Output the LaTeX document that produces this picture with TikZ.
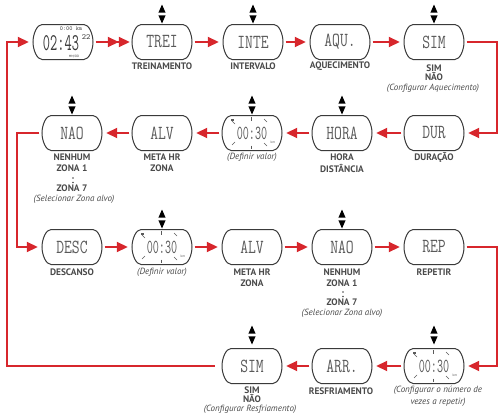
\documentclass[tikz,border=0pt]{standalone}
\usepackage{fontspec}
\setmainfont{PT Sans}
\usetikzlibrary{arrows.meta}
\definecolor{ared}{HTML}{D7262C}
\definecolor{lgray}{HTML}{4A4A4A}
\definecolor{fgray}{HTML}{3A3A3A}
\definecolor{dgray}{HTML}{5A5A5A}
\tikzset{
  face/.style={minimum width=60pt,minimum height=35pt,inner sep=0pt,
    font=\ttfamily\fontsize{19}{19}\selectfont,text=dgray},
  faceline/.style={draw=fgray,line width=1pt},
  lab/.style={font=\bfseries\fontsize{9.4}{10}\selectfont,text=lgray,inner sep=0pt},
  note/.style={font=\itshape\fontsize{9}{10}\selectfont,text=lgray,inner sep=0pt},
  flow/.style={draw=ared,line width=1.8pt,line join=miter,
    shorten <=2.5pt,shorten >=4pt,-{Triangle[length=11pt,width=10pt]}},
  flowtwo/.style={draw=ared,line width=1.8pt,shorten <=2.5pt,shorten >=2pt,
    -{Triangle[length=11pt,width=10pt]Triangle[length=11pt,width=10pt]}},
  ray/.style={draw=dgray,line width=0.7pt},
}
\newcommand{\lcdtext}[1]{\scalebox{0.8}[1.05]{#1}}
\newcommand{\lcdtime}[1]{\scalebox{0.62}[1.05]{#1}}
\newcommand{\faceoutline}[1]{%
  \begin{scope}[shift={(#1.center)}]
    \draw[faceline] (-21,-17.5) -- (21,-17.5)
      .. controls (26,-17.5) and (30,-8) .. (30,0)
      .. controls (30,8) and (26,17.5) .. (21,17.5)
      -- (-21,17.5)
      .. controls (-26,17.5) and (-30,8) .. (-30,0)
      .. controls (-30,-8) and (-26,-17.5) .. (-21,-17.5) -- cycle;
  \end{scope}}
\newcommand{\updown}[2]{%
  \fill[black] ({#1-3.6},{#2-1.3}) -- ({#1+3.6},{#2-1.3}) -- (#1,{#2-9.5}) -- cycle;
  \fill[black] ({#1-3.6},{#2+1.3}) -- ({#1+3.6},{#2+1.3}) -- (#1,{#2+9.5}) -- cycle;}
\newcommand{\flashrays}[1]{%
  \begin{scope}[shift={(#1.center)}]
    \draw[ray] (-20,-12) -- (-17,-9);
    \draw[ray] (-1,-16) -- (-1,-12.5);
    \draw[ray] (12,-14) -- (15,-11);
    \draw[ray] (-20,12) -- (-17,9);
    \draw[ray] (-1,12.5) -- (-1,16);
    \draw[ray] (12,10) -- (15,13);
    \fill[dgray] (-21,-14.5) rectangle (-18,-12.5);
    \node[font=\fontsize{3.5}{4}\selectfont,text=dgray,inner sep=0] at (21,9) {km};
  \end{scope}}
\begin{document}
\begin{tikzpicture}[x=1pt,y=-1pt]
\useasboundingbox (0,0) rectangle (499,415);
% ---------- row 1
\node[face] (w) at (63,42) {};
\node[face] (trei) at (162,42) {\lcdtext{TREI}};
\node[face] (inte) at (253,42) {\lcdtext{INTE}};
\node[face] (aqu) at (340,42) {\lcdtext{AQU.}};
\node[face] (sima) at (434,42) {\lcdtext{SIM}};
\node[font=\ttfamily\fontsize{20}{20}\selectfont,text=fgray,inner sep=0] (wdig) at (61,43.5) {\scalebox{0.7}[1.2]{02:43}};
\node[font=\ttfamily\fontsize{8}{8}\selectfont,text=fgray,inner sep=0] (wsec) at (86,37) {22};
\node[font=\ttfamily\fontsize{6}{6}\selectfont,text=fgray,inner sep=0] (wkm) at (71,28.5) {0:00 km};
\node[font=\fontsize{3.2}{4}\selectfont,text=fgray,inner sep=0] (wdate) at (74,56.5) {MM/DD};
% ---------- row 2
\node[face] (naoa) at (72,133) {\lcdtext{NAO}};
\node[face] (alva) at (162,133) {\lcdtext{ALV}};
\node[face] (defa) at (252,133) {\lcdtime{00:30}};
\node[face] (hora) at (342,133) {\lcdtext{HORA}};
\node[face] (dur) at (434,133) {\lcdtext{DUR}};
% ---------- row 3
\node[face] (desc) at (72,247) {\lcdtext{DESC}};
\node[face] (defb) at (162,247) {\lcdtime{00:30}};
\node[face] (alvb) at (252,247) {\lcdtext{ALV}};
\node[face] (naob) at (342,247) {\lcdtext{NAO}};
\node[face] (rep) at (434,247) {\lcdtext{REP}};
% ---------- row 4
\node[face] (simb) at (252,366) {\lcdtext{SIM}};
\node[face] (arr) at (342,366) {\lcdtext{ARR.}};
\node[face] (defc) at (434,366) {\lcdtime{00:30}};
% outlines
\foreach \n in {w,trei,inte,aqu,sima,naoa,alva,defa,hora,dur,desc,defb,alvb,naob,rep,simb,arr,defc}{\faceoutline{\n}}
\flashrays{defa}\flashrays{defb}\flashrays{defc}
% up/down icons
\updown{162}{14}\updown{253}{14}\updown{434}{14}
\updown{72}{105}\updown{252}{105}\updown{342}{105}
\updown{162}{219}\updown{342}{219}
\updown{252}{335}\updown{434}{335}
% ---------- labels row 1
\node[lab] (l1) at (162,66) {TREINAMENTO};
\node[lab] (l2) at (253,66) {INTERVALO};
\node[lab] (l3) at (340,66) {AQUECIMENTO};
\node[lab] (l4a) at (434,68) {SIM};
\node[lab] (l4b) at (434,77) {NÃO};
\node[note] (l4c) at (433,88) {(Configurar Aquecimento)};
% ---------- labels row 2
\node[lab] (m1a) at (72,157) {NENHUM};
\node[lab] (m1b) at (72,168) {ZONA 1};
\fill[lgray] (73,178) circle (0.8);
\fill[lgray] (73,182.5) circle (0.8);
\node[lab] (m1c) at (72,188) {ZONA 7};
\node[note] (m1d) at (74,199) {(Selecionar Zona alvo)};
\node[lab] (m2a) at (162,157) {META HR};
\node[lab] (m2b) at (162,168) {ZONA};
\node[note] (m3) at (252,157) {(Definir valor)};
\node[lab] (m4a) at (342,157) {HORA};
\node[lab] (m4b) at (342,168) {DISTÂNCIA};
\node[lab] (m5) at (434,157) {DURAÇÃO};
% ---------- labels row 3
\node[lab] (n1) at (72,272) {DESCANSO};
\node[note] (n2) at (162,272) {(Definir valor)};
\node[lab] (n3a) at (252,272) {META HR};
\node[lab] (n3b) at (252,283) {ZONA};
\node[lab] (n4a) at (342,272) {NENHUM};
\node[lab] (n4b) at (342,283) {ZONA 1};
\fill[lgray] (343,292) circle (0.8);
\fill[lgray] (343,296.5) circle (0.8);
\node[lab] (n4c) at (342,302) {ZONA 7};
\node[note] (n4d) at (342,313) {(Selecionar Zona alvo)};
\node[lab] (n5) at (434,272) {REPETIR};
% ---------- labels row 4
\node[lab] (o1a) at (252,390) {SIM};
\node[lab] (o1b) at (252,399) {NÃO};
\node[note] (o1c) at (250,409) {(Configurar Resfriamento)};
\node[lab] (o2) at (341,391) {RESFRIAMENTO};
\node[note] (o3a) at (438,390) {(Configurar o número de};
\node[note] (o3b) at (438,402) {vezes a repetir)};
% ---------- connectors
\coordinate (c1) at (497,42);
\coordinate (c2) at (497,247);
\coordinate (c3) at (17,133);
\coordinate (c4) at (7,366);
\draw[flowtwo] (w.east) -- (trei.west);
\draw[flow] (trei.east) -- (inte.west);
\draw[flow] (inte.east) -- (aqu.west);
\draw[flow] (aqu.east) -- (sima.west);
\draw[flow] (sima.east) -- (c1) |- (dur.east);
\draw[flow] (dur.west) -- (hora.east);
\draw[flow] (hora.west) -- (defa.east);
\draw[flow] (defa.west) -- (alva.east);
\draw[flow] (alva.west) -- (naoa.east);
\draw[flow] (naoa.west) -- (c3) |- (desc.west);
\draw[flow] (desc.east) -- (defb.west);
\draw[flow] (defb.east) -- (alvb.west);
\draw[flow] (alvb.east) -- (naob.west);
\draw[flow] (naob.east) -- (rep.west);
\draw[flow] (rep.east) -- (c2) |- (defc.east);
\draw[flow] (defc.west) -- (arr.east);
\draw[flow] (arr.west) -- (simb.east);
\draw[flow,shorten <=7pt] (simb.west) -- (c4) |- (w.west);
\end{tikzpicture}
\end{document}
